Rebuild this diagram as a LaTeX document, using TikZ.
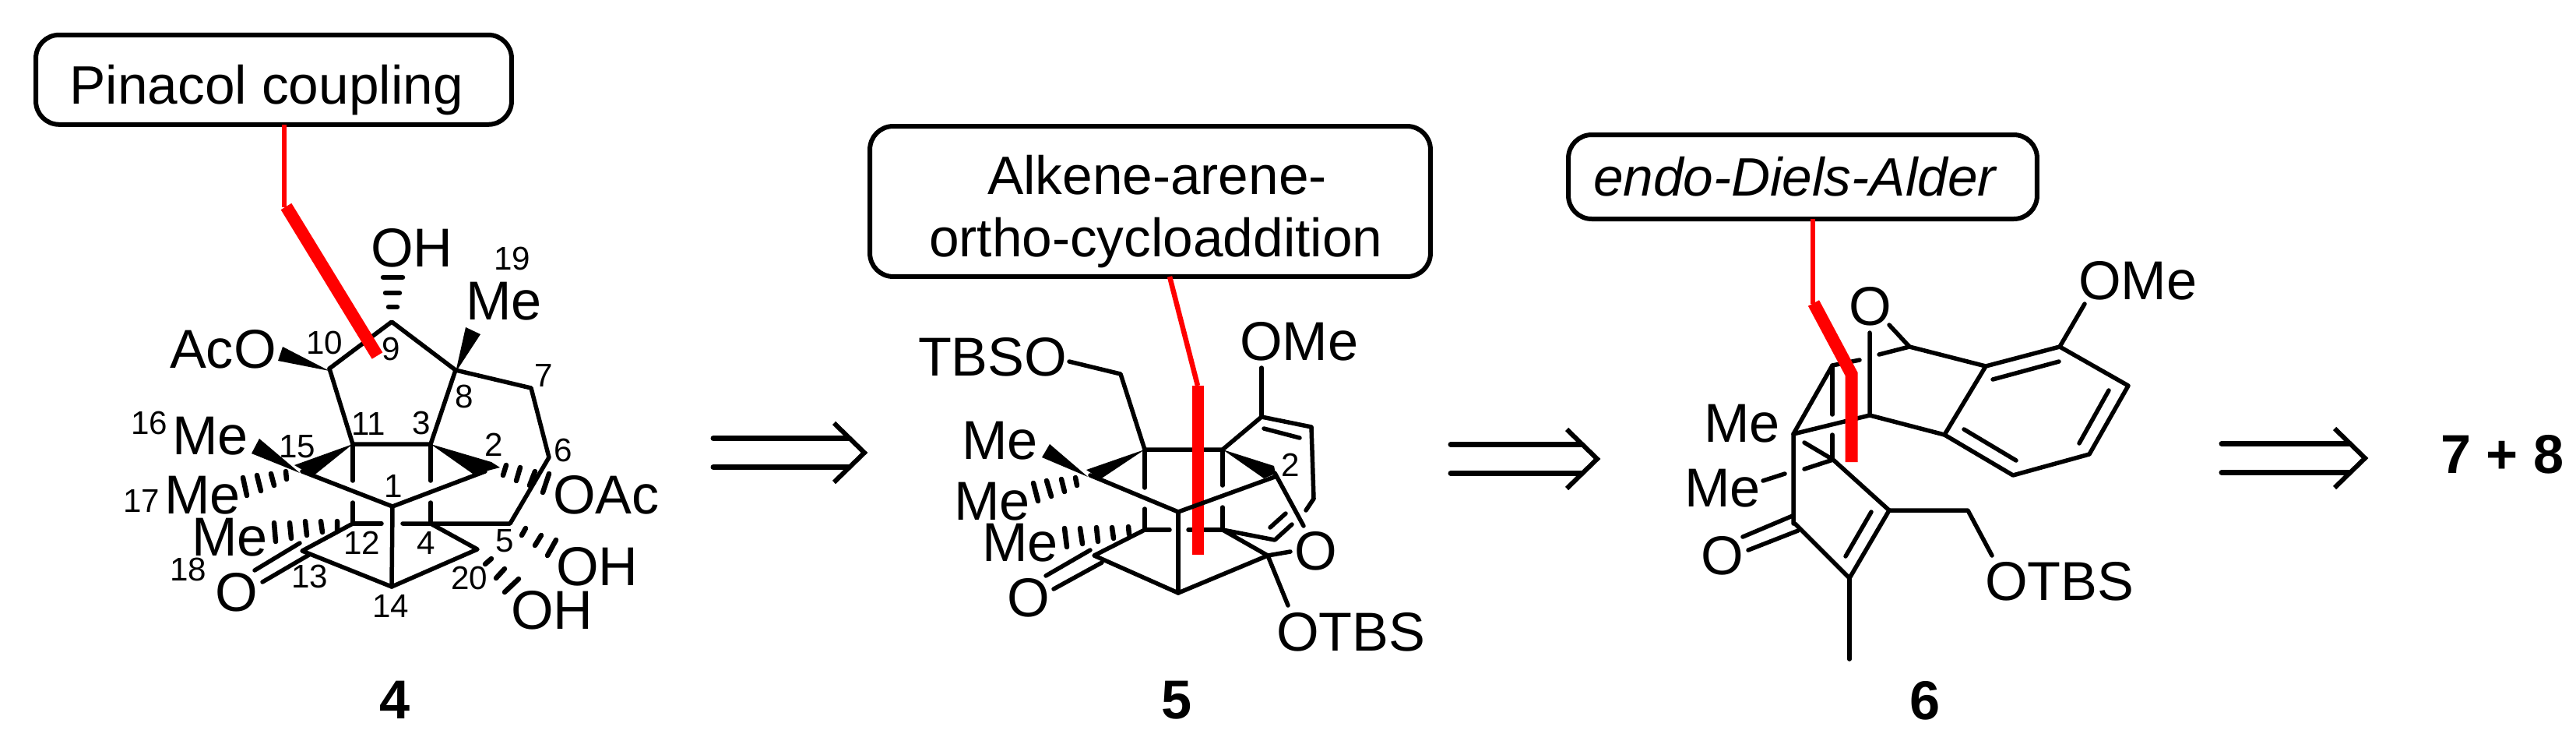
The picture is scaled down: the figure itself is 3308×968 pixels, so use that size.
\documentclass[tikz,border=0pt]{standalone}
\usepackage{fontspec}
\setmainfont{Liberation Sans}
\def\pw{0.569055pt}
\tikzset{
  x=0.02cm,y=-0.02cm,
  bond/.style={line width=5.5*\pw,line cap=round,line join=round,black},
  hashb/.style={line width=6.5*\pw,line cap=round,black},
  txt/.style={inner sep=0pt,outer sep=0pt,anchor=base west,font=\fontsize{40}{44}\selectfont},
  calltxt/.style={inner sep=0pt,outer sep=0pt,anchor=base west,font=\fontsize{39.5}{44}\selectfont},
  num/.style={inner sep=0pt,outer sep=0pt,anchor=base west,font=\fontsize{24}{27}\selectfont},
  cmpd/.style={inner sep=0pt,outer sep=0pt,anchor=base west,font=\fontsize{40}{44}\selectfont\bfseries},
  callout/.style={draw,line width=6*\pw,rounded corners=17pt,inner sep=0pt,outer sep=0pt},
  redthin/.style={draw=red,line width=6.5*\pw,line cap=butt},
  redthick/.style={draw=red,line width=16*\pw,line cap=butt,line join=miter},
  retroshaft/.style={line width=7*\pw,line cap=round},
  retrohead/.style={line width=6*\pw,line cap=butt,line join=miter},
}
\newcommand{\retroarrow}[3]{% start x, tip x, centre y
  \draw[retroshaft] (#1,#3-18.5) -- (#2-20,#3-18.5) (#1,#3+18.5) -- (#2-20,#3+18.5);
  \draw[retrohead] (#2-39,#3-38) -- (#2,#3) -- (#2-39,#3+38);
}
\begin{document}
\begin{tikzpicture}
\useasboundingbox (0,0) rectangle (3308,968);
% ---------- compound 4 ----------
\draw[bond] (423,473)--(503,413)--(585,475)--(682,498)--(705,587)--(655,672)--(517,672);
\draw[bond] (423,473)--(453,570)--(553,570)--(585,475);
\draw[bond] (453,570)--(453,617) (453,645)--(453,672)--(490,672);
\draw[bond] (553,570)--(553,617) (553,645)--(553,672);
\draw[bond] (388,605)--(504,650)--(623,605);
\draw[bond] (504,650)--(503,753)--(388,707)--(453,672);
\draw[bond] (553,672)--(613,705)--(503,753);
\draw[bond] (327,732)--(385,697) (337,747)--(397,712);
\fill (453,570)--(378,597)--(402,611)--cycle;
\fill (385,607)--(333,563)--(323,582)--cycle;
\fill (423,476)--(363,445)--(357,463)--cycle;
\fill (585,478)--(598,420)--(617,429)--cycle;
\fill (553,570)--(631,593)--(642,600)--(615,607)--(607,608)--cycle;
\draw[hashb] (492,356)--(517,356) (495,376)--(513,376) (499,394)--(510,394);
\draw[hashb] (650,597)--(646,610) (668,600)--(663,617) (687,605)--(680,623) (705,608)--(697,632);
\draw[hashb] (367,605)--(368,615) (348,608)--(352,623) (330,610)--(335,630) (312,613)--(317,636);
\draw[hashb] (433,669)--(433,682) (412,669)--(414,683) (392,669)--(394,687) (372,671)--(374,691) (352,671)--(354,695);
\draw[hashb] (675,678)--(670,687) (695,687)--(687,700) (714,693)--(703,713);
\draw[hashb] (631,717)--(623,724) (648,730)--(637,742) (666,743)--(648,760);
\node[txt] (s4a) at (218,472) {AcO};
\node[txt] (s4b) at (476,342) {OH};
\node[txt] (s4c) at (598,410) {Me};
\node[txt] (s4d) at (221,583) {Me};
\node[txt] (s4e) at (211,659) {Me};
\node[txt] (s4f) at (246,713) {Me};
\node[txt] (s4g) at (276,784) {O};
\node[txt] (s4h) at (710,659) {OAc};
\node[txt] (s4i) at (714,751) {OH};
\node[txt] (s4j) at (656,807) {OH};
\node[num] (n19) at (634,346) {19};
\node[num] (n16) at (168,557) {16};
\node[num] (n17) at (158,657) {17};
\node[num] (n18) at (218,745) {18};
\node[num] (n15) at (358,587) {15};
\node[num] (n11) at (451,558) {11};
\node[num] (n1) at (493,638) {1};
\node[num] (n12) at (441,711) {12};
\node[num] (n13) at (374,754) {13};
\node[num] (n14) at (478,792) {14};
\node[num] (n3) at (529,557) {3};
\node[num] (n8) at (584,523) {8};
\node[num] (n7) at (686,496) {7};
\node[num] (n2) at (622,585) {2};
\node[num] (n6) at (711,592) {6};
\node[num] (n4) at (535,711) {4};
\node[num] (n5) at (636,708) {5};
\node[num] (n20) at (579,756) {20};
\node[num] (n9) at (490,462) {9};
\node[num] (n10) at (393,454) {10};
\node[cmpd] (c4) at (487,922) {4};
% callout 1
\node[callout,minimum width=611*\pw,minimum height=115*\pw] (box1) at (351.5,102.3) {};
\node[calltxt] (box1t) at (89.5,133) {Pinacol coupling};
\coordinate (r1b) at (365,266);
\coordinate (r1c) at (484.5,456.5);
\draw[redthin] (box1.south -| r1b) -- (r1b);
\draw[redthick] (367.5,265) -- (r1c);
% ---------- compound 5 ----------
\draw[bond] (1373,464)--(1439,480)--(1470,577)--(1570,577)--(1620,535)--(1684,548)--(1687,640)--(1677,655);
\draw[bond] (1620,535)--(1620,472);
\draw[bond] (1623,550)--(1669,562);
\draw[bond] (1470,577)--(1470,626) (1470,653)--(1470,680)--(1502,680);
\draw[bond] (1526,680)--(1570,680);
\draw[bond] (1570,577)--(1570,623) (1570,651)--(1570,680);
\draw[bond] (1659,673)--(1637,693)--(1570,680)--(1628,713)--(1513,761)--(1405,713)--(1470,680);
\draw[bond] (1631,677)--(1651,659);
\draw[bond] (1513,657)--(1513,761);
\draw[bond] (1637,607)--(1674,675);
\draw[bond] (1657,708)--(1628,713)--(1654,777);
\draw[bond] (1400,610)--(1513,657);
\draw[bond] (1343,739)--(1400,706) (1353,756)--(1415,722);
\fill (1470,577)--(1395,603)--(1413,615)--cycle;
\fill (1397,612)--(1348,570)--(1338,587)--cycle;
\fill (1570,577)--(1636,598)--(1638,608)--(1623,614)--cycle;
\draw[hashb] (1381,613)--(1383,623) (1363,615)--(1367,631) (1344,617)--(1350,637) (1327,620)--(1333,643);
\draw[hashb] (1449,676)--(1450,686) (1428,677)--(1430,691) (1408,677)--(1410,695) (1387,678)--(1390,698) (1367,678)--(1370,702);
\node[txt] (s5a) at (1179,482) {TBSO};
\node[txt] (s5b) at (1592,462) {OMe};
\node[txt] (s5c) at (1235,589) {Me};
\node[txt] (s5d) at (1225,667) {Me};
\node[txt] (s5e) at (1261,720) {Me};
\node[txt] (s5f) at (1293,791) {O};
\node[txt] (s5g) at (1662,731) {O};
\node[txt] (s5h) at (1639,835) {OTBS};
\node[num] (s5n) at (1645,611) {2};
\node[cmpd] (c5) at (1491,922) {5};
% callout 2
\node[callout,minimum width=720*\pw,minimum height=193*\pw] (box2) at (1477,258.5) {};
\node[calltxt] (box2a) at (1268,249) {Alkene-arene-};
\node[calltxt] (box2b) at (1193,329) {ortho-cycloaddition};
\coordinate (r2b) at (1538,495);
\coordinate (r2c) at (1538,712);
\coordinate (r2a) at (1502,355);
\draw[redthin] (r2a) -- (r2b);
\draw[draw=red,line width=15*\pw] (r2b) -- (r2c);
\draw[bond] (1513,657)--(1637,612);
% ---------- compound 6 ----------
\draw[bond] (2426,417)--(2452,445)--(2413,455);
\draw[bond] (2388,462)--(2353,469)--(2303,557);
\draw[bond] (2452,445)--(2550,470)--(2645,445)--(2733,495)--(2683,583)--(2585,610)--(2497,558)--(2550,470);
\draw[bond] (2559,487)--(2644,464) (2708,501)--(2670,569) (2522,551)--(2589,591);
\draw[bond] (2645,445)--(2677,390);
\draw[bond] (2401,427)--(2401,533)--(2497,558);
\draw[bond] (2401,533)--(2303,557)--(2303,672);
\draw[bond] (2353,469)--(2353,532) (2353,558)--(2353,590);
\draw[bond] (2317,568)--(2354,590)--(2317,602);
\draw[bond] (2292,608)--(2264,617);
\draw[bond] (2238,689)--(2302,662) (2245,706)--(2309,681);
\draw[bond] (2305,672)--(2375,742)--(2426,655)--(2354,590);
\draw[bond] (2370,714)--(2403,657);
\draw[bond] (2426,655)--(2527,655)--(2558,713);
\draw[bond] (2375,742)--(2375,846);
\node[txt] (s6a) at (2374,417) {O};
\node[txt] (s6b) at (2669,384) {OMe};
\node[txt] (s6c) at (2188,567) {Me};
\node[txt] (s6d) at (2163,650) {Me};
\node[txt] (s6e) at (2184,737) {O};
\node[txt] (s6f) at (2549,770) {OTBS};
\node[cmpd] (c6) at (2452,923) {6};
% callout 3
\node[callout,minimum width=602*\pw,minimum height=108*\pw] (box3) at (2315,227) {};
\node[calltxt,font=\fontsize{39.5}{44}\selectfont\itshape] (box3t) at (2046,251) {endo-Diels-Alder};
\coordinate (r3b) at (2328,390);
\draw[redthin] (box3.south -| r3b) -- (r3b);
\draw[redthick] (2329,389) -- (2377.5,480) -- (2377.5,593);
% ---------- retro arrows ----------
\retroarrow{916}{1110}{581}
\retroarrow{1863}{2051}{589}
\retroarrow{2853}{3037}{588}
\node[cmpd] (c78) at (3134,607) {7 + 8};
\end{tikzpicture}
\end{document}
